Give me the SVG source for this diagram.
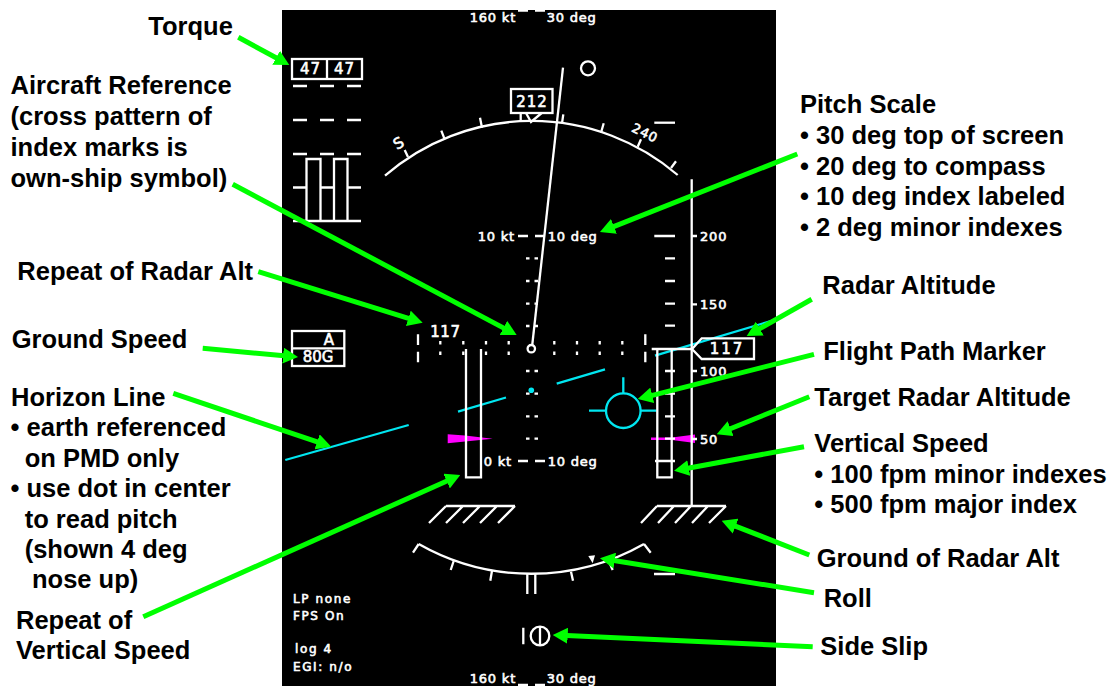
<svg xmlns="http://www.w3.org/2000/svg" width="1115" height="686" viewBox="0 0 1115 686">
<style>
.lbl{font-family:"Liberation Sans",Arial,sans-serif;font-weight:700;font-size:25.500px;fill:#000}
.hud{font-family:"DejaVu Sans",sans-serif;font-size:13px;fill:#fff;stroke:#fff;stroke-width:.6;letter-spacing:.8px}
.big{font-size:15px;letter-spacing:1px}
.sm{font-size:12px;letter-spacing:1.600px}
.w{fill:none;stroke:#fff;stroke-width:2.300}
.c{fill:none;stroke:#00e6f0;stroke-width:2.300}
.g{fill:none;stroke:#00ff00;stroke-width:5;marker-end:url(#ah)}
</style>
<defs>
<marker id="ah" markerUnits="userSpaceOnUse" markerWidth="15" markerHeight="16" refX="1" refY="8" orient="auto"><path d="M0,0 L15,8 L0,16 Z" fill="#00ff00"/></marker>
</defs>
<rect width="1115" height="686" fill="#fff"/>
<rect x="282" y="10" width="494" height="676" fill="#000"/>

<g id="torque-gauge">
<rect class="w" x="292" y="59" width="70" height="20"/><path class="w" d="M327,59V79"/>
<text class="hud big" x="300" y="74">47</text><text class="hud big" x="334" y="74">47</text>
<path class="w" d="M293,86H307M320,86H334M347,86H361M293,120H307M320,120H334M347,120H361M293,154H307M320,154H334M347,154H361M293,187.500H306.500M320.500,187.500H334M347.500,187.500H361M293,221H361"/>
<path class="w" d="M306.500,221V159H320.500V221M334,221V159H347.500V221"/>
</g>

<g id="compass">
<path class="w" d="M385,175.700A224,224 0 0 1 677.700,175"/>
<path class="w" d="M408,157L404.700,150M444.700,139.300L441.300,130.700M482,127.700L480,117.700M520.700,122V113M562,123.300L563.300,114.300M601,132.700L603.700,123.300M637.700,146.700L641,139.300M671,168L676,161.300"/>
<text class="hud big" x="399" y="148" text-anchor="middle" transform="rotate(-30 399 143)">S</text>
<text class="hud" x="645" y="137.500" text-anchor="middle" transform="rotate(26 645 133)">240</text>
<path class="w" d="M526,113L531,122L541.700,113"/>
<rect class="w" x="511" y="89" width="41.500" height="24"/>
<text class="hud big" x="532" y="106.700" text-anchor="middle">212</text>
<path class="w" d="M654.300,122.700H675"/>
</g>

<g id="sun-pointer">
<path class="w" d="M563,67.700L532.300,344.500"/>
<circle class="w" cx="588" cy="68.300" r="7"/>
</g>

<g id="pitch-scale">
<path class="w" d="M526,258.300h3.500M534.500,258.300h3.500M526,281h3.500M534.500,281h3.500M526,303.700h3.500M534.500,303.700h3.500M526,326h3.500M534.500,326h3.500M526,371h3.500M534.500,371h3.500M526,393.700h3.500M534.500,393.700h3.500M526,416.300h3.500M534.500,416.300h3.500M526,438.700h3.500M534.500,438.700h3.500"/>
<path class="w" d="M440.300,341v3.500M440.300,351.500v3.500M463.300,341v3.500M463.300,351.500v3.500M486,341v3.500M486,351.500v3.500M508.700,341v3.500M508.700,351.500v3.500M554.300,341v3.500M554.300,351.500v3.500M577,341v3.500M577,351.500v3.500M599.700,341v3.500M599.700,351.500v3.500M622.300,341v3.500M622.300,351.500v3.500"/>
<path class="w" d="M418,334.300V345M418,351.700V362.300M645.300,334.300V345M645.300,351.700V362.300"/>
<circle class="w" cx="531.300" cy="348.700" r="3.700"/>
<path class="w" d="M518,236H528M535,236H545M518,461H528M535,461H545M518,10.500H528M535,10.500H545M518,685H528M535,685H545"/>
<text class="hud" x="469.700" y="22">160 kt</text><text class="hud" x="546.700" y="22">30 deg</text>
<text class="hud" x="477.700" y="240.700">10 kt</text><text class="hud" x="547.700" y="240.700">10 deg</text>
<text class="hud" x="483.700" y="465.700">0 kt</text><text class="hud" x="547.700" y="465.700">10 deg</text>
<text class="hud" x="469.700" y="683">160 kt</text><text class="hud" x="546.700" y="683">30 deg</text>
</g>

<g id="horizon-line">
<path class="c" d="M285.300,460L408.700,425M458,411.700L506,397.500M556.700,383.700L605,369.300M655,355.700L776,319.500"/>
<circle cx="531.300" cy="390.300" r="2.800" fill="#00e6f0"/>
</g>

<g id="flight-path-marker">
<circle class="c" cx="623.300" cy="410.700" r="17.300"/>
<path class="c" d="M623.300,377.300V393.400M589,410.700H606M640.600,410.700H656.700"/>
</g>

<g id="target-markers">
<path d="M447.700,434.300L465,435.500L492.700,438.700L465,441.500L447.700,443.300Z" fill="#ff00ff"/>
<path d="M651,437.500L672,437.500L695,434.500V443L672,440L651,440Z" fill="#ff00ff"/>
</g>

<g id="radar-altitude">
<path class="w" d="M691.700,179.300V506"/>
<path class="w" d="M692,236h5M692,304.300h5M692,371h5M692,439h5"/>
<text class="hud" x="700" y="240.700">200</text><text class="hud" x="700" y="309">150</text><text class="hud" x="700" y="375.700">100</text><text class="hud" x="700" y="443.700">50</text>
<path class="w" d="M654.300,236H675M665,258.300H675M665,281H675M665,303.700H675M665,325.700H675M665,371H675M665,393.700H675M665,416.300H675M665,438.700H675M655,461H675"/>
<path class="w" d="M651.700,349H692L701.700,338.300H754V359H701.700L692,349"/>
<text class="hud big" x="727" y="354" text-anchor="middle" style="letter-spacing:2px">117</text>
<path class="w" d="M657.300,349V477.300H671.700V349"/>
<path class="w" d="M657,506H726M657,506L641,523M674,506L658,523M691,506L675,523M708,506L692,523M726,506L709,523"/>
</g>

<g id="radar-altitude-repeat">
<text class="hud big" x="430.300" y="336.700" style="letter-spacing:.5px">117</text>
<path class="w" d="M466,349V477.300H481V349"/>
<path class="w" d="M446,506H515M446,506L429,523M463,506L446,523M480,506L463,523M497,506L480,523M515,506L498,523"/>
</g>

<g id="ground-speed">
<rect class="w" x="292" y="331" width="52.300" height="35"/><path class="w" d="M292,348.300H344.300"/>
<text class="hud big" x="329.300" y="345" text-anchor="middle">A</text>
<text class="hud big" x="302.700" y="362.300" style="letter-spacing:0">80G</text>
</g>

<g id="roll-scale">
<path class="w" d="M418.700,544A228,228 0 0 0 644,544"/>
<path class="w" d="M418.700,544L413,552.700M644,544L650.700,552.700M453.700,561L450.700,570M492,570.700L490.300,580.700M527.300,574V594M535.300,574V594M571,571.700L573,580.700M609,561.700L612.700,570M654,574H675"/>
<path d="M588.300,556L595,555.300L592.700,563.300Z" fill="#fff"/>
</g>

<g id="side-slip">
<path class="w" d="M523.300,627.700V644.300M540,626.700V645.300"/>
<circle class="w" cx="540" cy="636" r="9.300"/>
</g>

<g id="status-text">
<text class="hud sm" x="293" y="602.700">LP none</text>
<text class="hud sm" x="293" y="620">FPS On</text>
<text class="hud sm" x="295" y="653">log 4</text>
<text class="hud sm" x="293" y="670.700">EGI: n/o</text>
</g>

<g id="connectors">
<path class="g" d="M238.300,37.300L277,58.300"/>
<path class="g" d="M232.700,184.300L504.300,328.400"/>
<path class="g" d="M797.300,154L613,226.800"/>
<path class="g" d="M258.300,271.700L409.300,318.600"/>
<path class="g" d="M202.700,348.300L284.100,355.700"/>
<path class="g" d="M173.300,393.300L318,442.200"/>
<path class="g" d="M143.300,616.700L447.500,480.700"/>
<path class="g" d="M811.700,299.300L758.900,329.100"/>
<path class="g" d="M814,354.300L651.300,395.600"/>
<path class="g" d="M809.300,396.700L729.700,429"/>
<path class="g" d="M804,446.700L687.800,468.200"/>
<path class="g" d="M809.300,555L734.700,525.800"/>
<path class="g" d="M814,592.700L613.800,560.500"/>
<path class="g" d="M812.700,646.700L566.700,635.600"/>
</g>

<g id="labels">
<text class="lbl" x="148.300" y="34.700">Torque</text>
<text class="lbl" x="10.500" y="94.300">Aircraft Reference</text>
<text class="lbl" x="10.500" y="125">(cross pattern of</text>
<text class="lbl" x="10.500" y="155.700">index marks is</text>
<text class="lbl" x="10.500" y="186.700">own-ship symbol)</text>
<text class="lbl" x="17.300" y="280">Repeat of Radar Alt</text>
<text class="lbl" x="11.700" y="348">Ground Speed</text>
<text class="lbl" x="11" y="405.700">Horizon Line</text>
<text class="lbl" x="10.500" y="436">• earth referenced</text>
<text class="lbl" x="24.700" y="466.700">on PMD only</text>
<text class="lbl" x="10.500" y="497.300">• use dot in center</text>
<text class="lbl" x="24.700" y="527.700">to read pitch</text>
<text class="lbl" x="24.700" y="558.300">(shown 4 deg</text>
<text class="lbl" x="32" y="588.300">nose up)</text>
<text class="lbl" x="16" y="629.300">Repeat of</text>
<text class="lbl" x="16" y="659.300">Vertical Speed</text>
<text class="lbl" x="800" y="113.300">Pitch Scale</text>
<text class="lbl" x="800" y="144.300">• 30 deg top of screen</text>
<text class="lbl" x="800" y="175">• 20 deg to compass</text>
<text class="lbl" x="800" y="205">• 10 deg index labeled</text>
<text class="lbl" x="800" y="235.700">• 2 deg minor indexes</text>
<text class="lbl" x="822.300" y="294.300">Radar Altitude</text>
<text class="lbl" x="823.300" y="360">Flight Path Marker</text>
<text class="lbl" x="814.300" y="406">Target Radar Altitude</text>
<text class="lbl" x="814.300" y="452">Vertical Speed</text>
<text class="lbl" x="814.300" y="483.300">• 100 fpm minor indexes</text>
<text class="lbl" x="814.300" y="513.300">• 500 fpm major index</text>
<text class="lbl" x="816.700" y="566.700">Ground of Radar Alt</text>
<text class="lbl" x="823.700" y="607.300">Roll</text>
<text class="lbl" x="820.300" y="655">Side Slip</text>
</g>
</svg>
